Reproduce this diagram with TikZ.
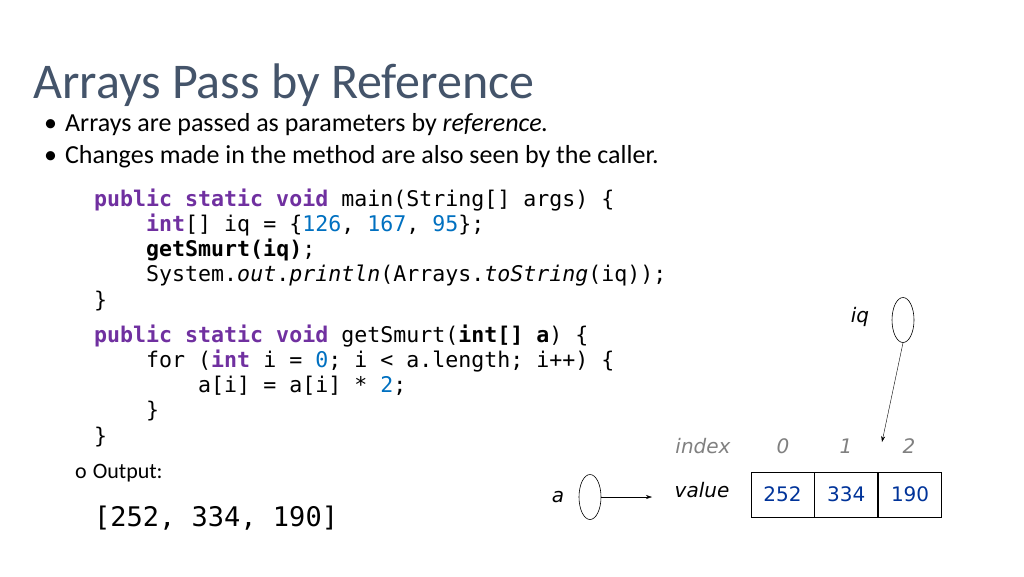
\documentclass[tikz,border=0pt]{standalone}
\usepackage{fontspec}
\setmainfont{Carlito}
\setmonofont{DejaVu Sans Mono}
\newfontfamily\verd{DejaVu Sans}
\usetikzlibrary{arrows.meta,positioning,shapes.geometric}
\definecolor{titlegray}{RGB}{68,84,106}
\definecolor{kwpurple}{RGB}{112,48,160}
\definecolor{numblue}{RGB}{0,112,192}
\definecolor{valblue}{RGB}{0,51,153}
\definecolor{idxgray}{RGB}{128,128,128}
\newcommand{\kw}[1]{\textcolor{kwpurple}{\textbf{#1}}}
\newcommand{\nm}[1]{\textcolor{numblue}{#1}}
\newcommand{\ind}{\phantom{0000}}
\begin{document}
\begin{tikzpicture}[x=1pt,y=-1pt,
    code/.style={anchor=west, inner sep=0pt, font=\fontsize{21.6}{25}\ttfamily},
    bul/.style={anchor=west, inner sep=0pt, font=\fontsize{26}{30}\selectfont},
    lbl/.style={inner sep=0pt, font=\fontsize{20}{24}\verd\itshape},
    cell/.style={draw, thick, minimum width=63pt, minimum height=45pt, inner sep=0pt, text=valblue, font=\fontsize{20}{24}\verd},
    var/.style={draw, semithick, ellipse, minimum width=22pt, minimum height=45pt, inner sep=0pt},
    arrow/.style={-{Stealth[length=6pt,width=4pt]}}
  ]
  \useasboundingbox (0,0) rectangle (1024,576);

  % Title and bullets
  \node[anchor=base west, inner sep=0pt, text=titlegray, font=\fontsize{50}{56}\selectfont] (title) at (33,98) {Arrays Pass by Reference};
  \node[bul] (b1) at (44,125) {\textbullet\hspace{8pt}Arrays are passed as parameters by \textit{reference.}};
  \node[bul] (b2) at (44,157) {\textbullet\hspace{8pt}Changes made in the method are also seen by the caller.};

  % Code
  \node[code] (c1) at (94,200) {\kw{public static void} main(String[] args) \{};
  \node[code] (c2) at (94,225) {\ind\kw{int}[] iq = \{\nm{126}, \nm{167}, \nm{95}\};};
  \node[code] (c3) at (94,250) {\ind\textbf{getSmurt(iq)};};
  \node[code] (c4) at (94,276) {\ind System.\textit{out}.\textit{println}(Arrays.\textit{toString}(iq));};
  \node[code] (c5) at (94,301) {\}};
  \node[code] (c6) at (94,336) {\kw{public static void} getSmurt(\textbf{int[] a}) \{};
  \node[code] (c7) at (94,361) {\ind for (\kw{int} i = \nm{0}; i < a.length; i++) \{};
  \node[code] (c8) at (94,386) {\ind\ind a[i] = a[i] * \nm{2};};
  \node[code] (c9) at (94,411) {\ind\}};
  \node[code] (c10) at (94,437) {\}};

  % Output
  \node[anchor=west, inner sep=0pt, font=\fontsize{22}{26}\selectfont] (out) at (75,473) {o\hspace{6pt}Output:};
  \node[code, font=\fontsize{27}{30}\ttfamily] (res) at (94,518) {[252, 334, 190]};

  % Array
  \node[cell] (v0) at (782.5,494.5) {252};
  \node[cell, right=0pt of v0] (v1) {334};
  \node[cell, right=0pt of v1] (v2) {190};
  \node[lbl, text=idxgray] (idx) at (703,446) {index};
  \node[lbl, text=idxgray] (i0) at (783,446) {0};
  \node[lbl, text=idxgray] (i1) at (846,446) {1};
  \node[lbl, text=idxgray] (i2) at (909,446) {2};
  \node[lbl] (val) at (702,490) {value};

  % References
  \node[var] (iqv) at (903,320) {};
  \node[lbl] (iql) at (860,317) {iq};
  \node[var] (av) at (590,497) {};
  \node[lbl] (al) at (558,497) {a};
  \coordinate (iqend) at (882,442);
  \coordinate (aend) at (652,497);
  \draw[arrow] (iqv.south) -- (iqend);
  \draw[arrow] (av.east) -- (aend);
\end{tikzpicture}
\end{document}
